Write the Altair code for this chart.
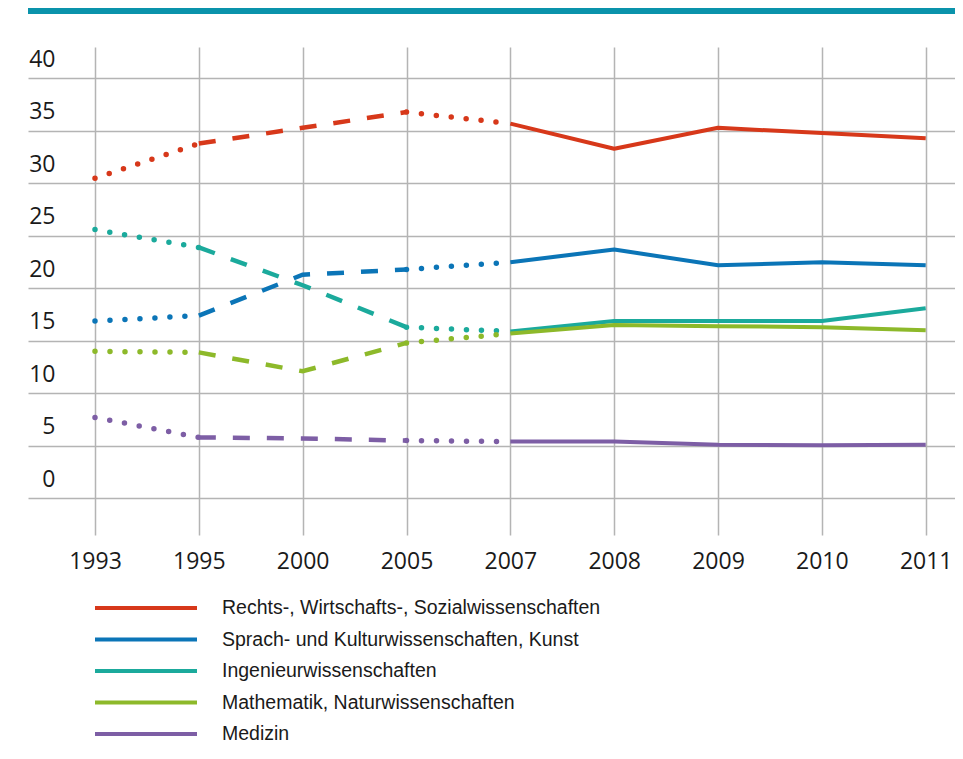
import altair as alt
import pandas as pd

years = ["1993", "1995", "2000", "2005", "2007", "2008", "2009", "2010", "2011"]
series = [
    "Rechts-, Wirtschafts-, Sozialwissenschaften",
    "Sprach- und Kulturwissenschaften, Kunst",
    "Ingenieurwissenschaften",
    "Mathematik, Naturwissenschaften",
    "Medizin",
]
rechts = [30.5, 33.8, 35.3, 36.8, 35.7, 33.3, 35.3, 34.8, 34.3]
sprach = [16.9, 17.4, 21.3, 21.8, 22.5, 23.7, 22.2, 22.5, 22.2]
ingenieur = [25.6, 23.9, 20.3, 16.3, 15.9, 16.9, 16.9, 16.9, 18.1]
mathe = [14.0, 13.9, 12.1, 14.8, 15.7, 16.5, 16.4, 16.3, 16.0]
medizin = [7.7, 5.8, 5.7, 5.5, 5.4, 5.4, 5.1, 5.05, 5.1]
segment_styles = ["dotted", "dashed", "dashed", "dotted", "solid", "solid", "solid", "solid"]
colors = ["#d7381a", "#0b75b7", "#1baa9c", "#8db92a", "#7d5ea5"]
y_ticks = [0, 5, 10, 15, 20, 25, 30, 35, 40]

values = [rechts, sprach, ingenieur, mathe, medizin]

# group consecutive segments of the same style into runs
runs = []
start = 0
for i in range(1, len(segment_styles) + 1):
    if i == len(segment_styles) or segment_styles[i] != segment_styles[start]:
        runs.append((segment_styles[start], start, i))
        start = i

rows = []
for s, vals in zip(series, values):
    for k, (style, a, b) in enumerate(runs):
        for j in range(a, b + 1):
            rows.append(dict(series=s, year=years[j], idx=j, value=vals[j],
                             style=style, run=f"{s}|{k}"))
df = pd.DataFrame(rows)

GRID = "#b4b4b4"
TXT = "#1a1a1a"
NUMFONT = "Open Sans"

base = alt.Chart(df).encode(
    x=alt.X("year:O", sort=years,
            scale=alt.Scale(type="point", padding=0.4637, align=0.6957),
            axis=alt.Axis(title=None, labelAngle=0, domain=False, ticks=False, tickSize=0,
                          grid=True, gridColor=GRID, gridWidth=1.5,
                          labelFont=NUMFONT, labelFontSize=23, labelColor=TXT,
                          labelPadding=26, labelBaseline="middle")),
    y=alt.Y("value:Q",
            scale=alt.Scale(domain=[-3.5, 43.0], nice=False, zero=False),
            axis=alt.Axis(title=None, values=y_ticks, domain=False, ticks=False, tickSize=0,
                          grid=True, gridColor=GRID, gridWidth=1.5,
                          labelFont=NUMFONT, labelFontSize=23, labelColor=TXT,
                          labelPadding=-27, labelAlign="right", labelBaseline="middle",
                          labelOffset=-19)),
    color=alt.Color("series:N", sort=series,
                    scale=alt.Scale(domain=series, range=colors),
                    legend=alt.Legend(orient="none", legendX=65, legendY=546, title=None,
                                      direction="vertical", symbolType="stroke",
                                      symbolSize=10404, symbolStrokeWidth=4,
                                      labelFont="Liberation Sans",
                                      labelFontSize=19.5, labelColor=TXT, labelOffset=23,
                                      clipHeight=30, rowPadding=1.5, padding=0, labelLimit=0)),
    detail="run:N",
    order="idx:Q",
)

solid = base.transform_filter(alt.datum.style == "solid").mark_line(
    strokeWidth=4, strokeJoin="round")
dashed = base.transform_filter(alt.datum.style == "dashed").mark_line(
    strokeWidth=4.5, strokeDash=[17, 17])
dotted = base.transform_filter(alt.datum.style == "dotted").mark_line(
    strokeWidth=5.5, strokeDash=[0, 15], strokeCap="round")

bar = alt.Chart(pd.DataFrame({"b": [1]})).mark_rule(color="#0a93ab", strokeWidth=6).encode(
    x=alt.value(0), x2=alt.value(927), y=alt.value(-36))

chart = alt.layer(solid, dashed, dotted, bar).properties(
    width=927, height=488,
    padding={"left": 20, "top": 39, "right": 0, "bottom": 209},
    autosize=alt.AutoSizeParams(type="none"),
).configure_view(strokeWidth=0)

chart.save("out.html", embed_options={"renderer": "svg", "actions": False})
